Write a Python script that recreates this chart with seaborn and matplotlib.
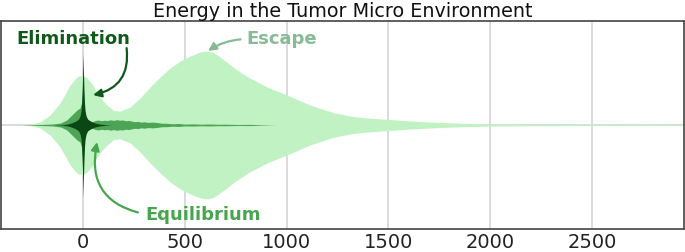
import matplotlib
matplotlib.use("Agg")
import matplotlib.pyplot as plt
import seaborn as sns

# Energy values and violin half-widths (density)
escape_energy = [-290, -260, -211, -162, -113, -85, -64, -40, -25, 0, 20, 45, 69, 95, 118, 150,
                 182, 231, 280, 329, 378, 427, 476, 526, 560, 590, 612, 635, 660, 700, 737,
                 780, 820, 904, 1002, 1115, 1228, 1311, 1395, 1493, 1591, 1704, 1800, 1900,
                 2000, 2200, 2500, 2950]
escape_density = [0, 0.5, 3, 10, 22, 32, 40, 46, 49, 49.5, 47, 41, 32, 25, 20, 14.5,
                  14, 18, 27, 38, 48, 57, 64, 69, 72, 73.8, 74, 73, 70, 64, 58,
                  52, 47, 38, 30, 20, 12.5, 9, 7, 5.7, 4.3, 3, 2.2, 1.6,
                  1.1, 0.8, 0.6, 0.5]

equilibrium_energy = [-300, -250, -200, -150, -110, -80, -60, -45, -30, -15, -8, -4, -1.5, 0,
                      1.5, 4, 8, 14, 22, 30, 45, 60, 75, 90, 105, 120, 135, 150, 165, 180,
                      195, 210, 225, 240, 255, 270, 285, 300, 320, 340, 363, 385, 412, 440,
                      470, 500, 540, 580, 620, 660, 700, 760, 820, 870, 950]
equilibrium_density = [0, 0.3, 0.6, 1, 2, 5, 9, 12, 15, 17, 22, 32, 45, 50,
                       40, 25, 14, 8, 5.5, 4.5, 3.3, 4.5, 5, 4.3, 4.8, 4.5, 5.2, 4.6, 5.3, 4.8,
                       5, 4.2, 4.6, 3.8, 3.3, 3.6, 2.8, 3.2, 2.6, 2.9, 2.5, 1.8, 1.7, 1.2,
                       1.5, 0.9, 1.1, 0.8, 1.0, 0.7, 0.8, 0.5, 0.6, 0.3, 0]

elimination_energy = [-140, -100, -75, -55, -35, -22, -15, -10, -7, -5, -3, -1.5, 0,
                      1.5, 3, 5, 7, 10, 15, 22, 35, 55, 80, 110, 140]
elimination_density = [0, 0.3, 1, 2.2, 4, 6, 9, 14, 22, 32, 45, 58, 72,
                       58, 45, 32, 22, 14, 9, 6, 4, 2.2, 1, 0.3, 0]

xticks = [0, 500, 1000, 1500, 2000, 2500]

PEAK = max(escape_density)
HALF = 0.355  # half-width of the widest violin in axis units


def draw_violin(ax, energy, density, color, alpha=1.0):
    w = [d / PEAK * HALF for d in density]
    ax.fill_between(energy, [-v for v in w], w, color=color, alpha=alpha,
                    linewidth=0, zorder=2)


sns.set_theme(style="whitegrid")
plt.rcParams["font.family"] = ["DejaVu Sans"]

fig = plt.figure(figsize=(6.85, 2.52), dpi=100)
ax = fig.add_axes([0.0015, 0.0913, 0.997, 0.8254])

draw_violin(ax, escape_energy, escape_density, "#c1f2c4")
draw_violin(ax, equilibrium_energy, equilibrium_density, "#3f9c48", alpha=0.9)
draw_violin(ax, elimination_energy, elimination_density, "#0a4714")

ax.set_xlim(-403, 2952)
ax.set_ylim(-0.5, 0.5)
ax.set_xticks(xticks)
ax.set_xticklabels([str(t) for t in xticks], fontsize=14, color="#222222")
ax.set_yticks([0])
ax.set_yticklabels([])
ax.tick_params(axis="both", length=0, pad=3)
ax.grid(True, color="#d8d8d8", linewidth=1.3, zorder=0)
ax.set_axisbelow(True)
for s in ax.spines.values():
    s.set_color("#444444")
    s.set_linewidth(1.2)

ax.set_title("Energy in the Tumor Micro Environment", fontsize=13.8, pad=3, color="#111111")

ax.annotate("Elimination", xy=(49, 0.144), xytext=(-49, 0.413),
            ha="center", va="center", fontsize=13, fontweight="bold", color="#0f5a1b",
            arrowprops=dict(arrowstyle="-|>", color="#0f5a1b", lw=1.6,
                            shrinkA=0, shrinkB=0, mutation_scale=12,
                            connectionstyle="arc3,rad=-0.45",
                            patchA=None, relpos=(0.97, 0.0)),
            zorder=5)
ax.annotate("Escape", xy=(614, 0.356), xytext=(977, 0.413),
            ha="center", va="center", fontsize=13, fontweight="bold", color="#88bb95",
            arrowprops=dict(arrowstyle="-|>", color="#88bb95", lw=1.6,
                            shrinkA=2, shrinkB=0, mutation_scale=12,
                            connectionstyle="arc3,rad=0.15", relpos=(0.0, 0.5)),
            zorder=5)
ax.annotate("Equilibrium", xy=(69, -0.082), xytext=(589, -0.433),
            ha="center", va="center", fontsize=13, fontweight="bold", color="#48a54f",
            arrowprops=dict(arrowstyle="-|>", color="#48a54f", lw=1.6,
                            shrinkA=3, shrinkB=0, mutation_scale=12,
                            connectionstyle="arc3,rad=-0.5", relpos=(0.0, 0.55)),
            zorder=5)

fig.savefig("out.png", dpi=100)
